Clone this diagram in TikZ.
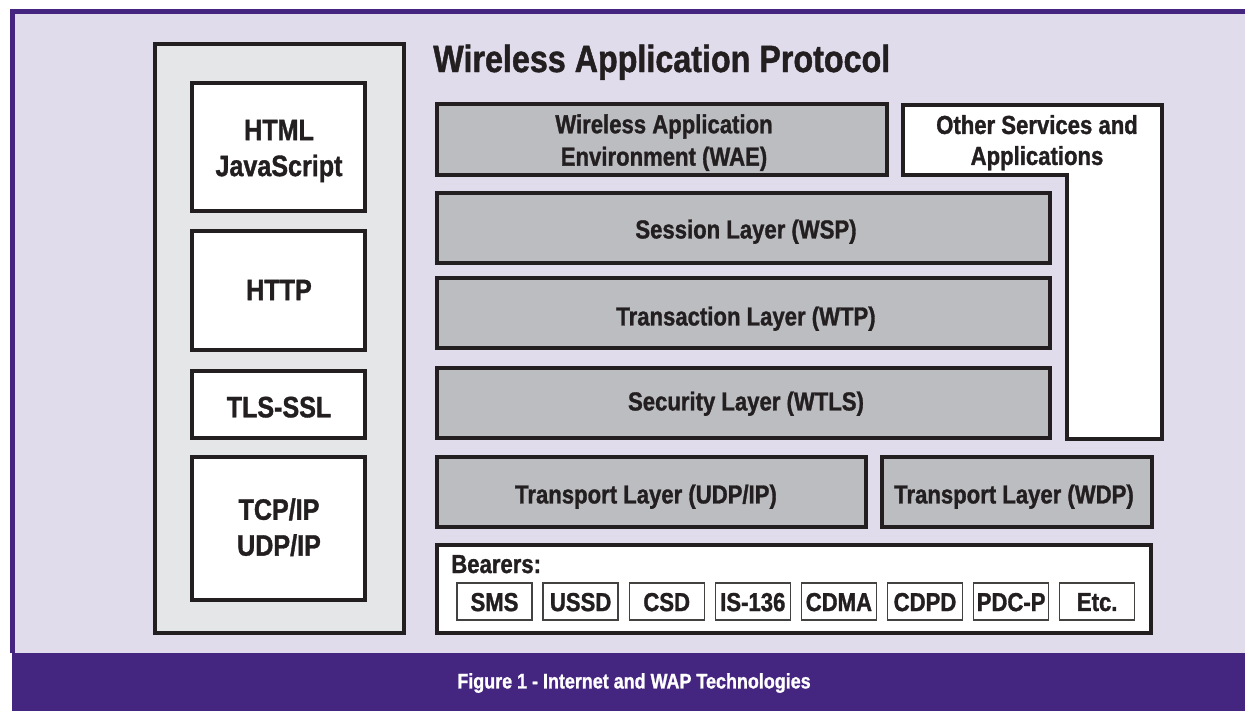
\documentclass[tikz,border=0pt]{standalone}
\usepackage{fontspec}
\setmainfont{Liberation Sans}[FakeStretch=0.85,BoldFeatures={FakeBold=1.2}]
\usepackage{xcolor}
\usepackage{tikz}

\definecolor{wapback}{HTML}{E0DCEC}
\definecolor{wappurple}{HTML}{44257F}
\definecolor{panelgrey}{HTML}{E5E6E8}
\definecolor{layergrey}{HTML}{BCBDC1}
\definecolor{inkline}{HTML}{231F20}

\tikzset{
  layer/.style={draw=inkline,line width=2.2pt,fill=layergrey},
  plainbox/.style={draw=inkline,line width=2.2pt,fill=white},
  bearerbox/.style={draw=inkline!85,line width=0.9pt,fill=white},
  lbl/.style={font=\bfseries\fontsize{18.5}{23}\selectfont,align=center,text=inkline,inner sep=0pt,text depth=0pt},
  netlbl/.style={lbl,font=\bfseries\fontsize{21}{25.5}\selectfont}
}

\begin{document}
\begin{tikzpicture}[x=0.025cm,y=-0.025cm]
\useasboundingbox (0,0) rectangle (1245,711);
% Frame and caption bar
\fill[wappurple] (10,9) rectangle (1245,653);
\fill[wapback] (15,14) rectangle (1245,653);
\fill[wappurple] (12,653) rectangle (1245,711);
\node[font=\bfseries\fontsize{15}{18}\selectfont,text=white] (caption) at (634,683) {Figure 1 - Internet and WAP Technologies};

% Internet stack (left)
\draw[draw=inkline,line width=2.2pt,fill=panelgrey] (155,44) rectangle (404,633);
\draw[plainbox] (192,83) rectangle (365,211);
\node[netlbl] (html) at (279,148) {HTML\\JavaScript};
\draw[plainbox] (192,231) rectangle (365,350);
\node[netlbl] (http) at (279,290) {HTTP};
\draw[plainbox] (192,371) rectangle (365,438);
\node[netlbl] (tls) at (279,407) {TLS-SSL};
\draw[plainbox] (192,457) rectangle (365,600);
\node[netlbl] (tcp) at (279,527) {TCP/IP\\UDP/IP};

% WAP stack (right)
\node[font=\bfseries\fontsize{27}{32}\selectfont,text=inkline,inner sep=0pt,anchor=base west] (title) at (433,72) {Wireless Application Protocol};
\draw[layer] (437,104) rectangle (887,175);
\node[lbl] (wae) at (664,140) {Wireless Application\\Environment (WAE)};
\draw[plainbox] (903,105) -- (1162,105) -- (1162,439) -- (1067,439) -- (1067,175) -- (903,175) -- cycle;
\node[lbl,font=\bfseries\fontsize{18.5}{22}\selectfont] (other) at (1037,140) {Other Services and\\Applications};
\draw[layer] (437,193) rectangle (1050,263);
\node[lbl] (wsp) at (746,229) {Session Layer (WSP)};
\draw[layer] (437,278) rectangle (1050,348);
\node[lbl] (wtp) at (746,316) {Transaction Layer (WTP)};
\draw[layer] (437,368) rectangle (1050,438);
\node[lbl] (wtls) at (746,401) {Security Layer (WTLS)};
\draw[layer] (437,457) rectangle (866,527);
\node[lbl] (udp) at (646,494) {Transport Layer (UDP/IP)};
\draw[layer] (882,457) rectangle (1152,527);
\node[lbl] (wdp) at (1014,494) {Transport Layer (WDP)};

% Bearers
\draw[plainbox] (437,545) rectangle (1151,633);
\node[lbl,anchor=base west] (bearers) at (451,573) {Bearers:};
\foreach \lab [count=\i from 0] in {SMS,USSD,CSD,IS-136,CDMA,CDPD,PDC-P,Etc.} {
    \draw[bearerbox] ({457+86.1*\i},583) rectangle ++(75,37);
    \node[lbl] (b\i) at ({494.5+86.1*\i},602) {\lab};
}
\end{tikzpicture}
\end{document}
